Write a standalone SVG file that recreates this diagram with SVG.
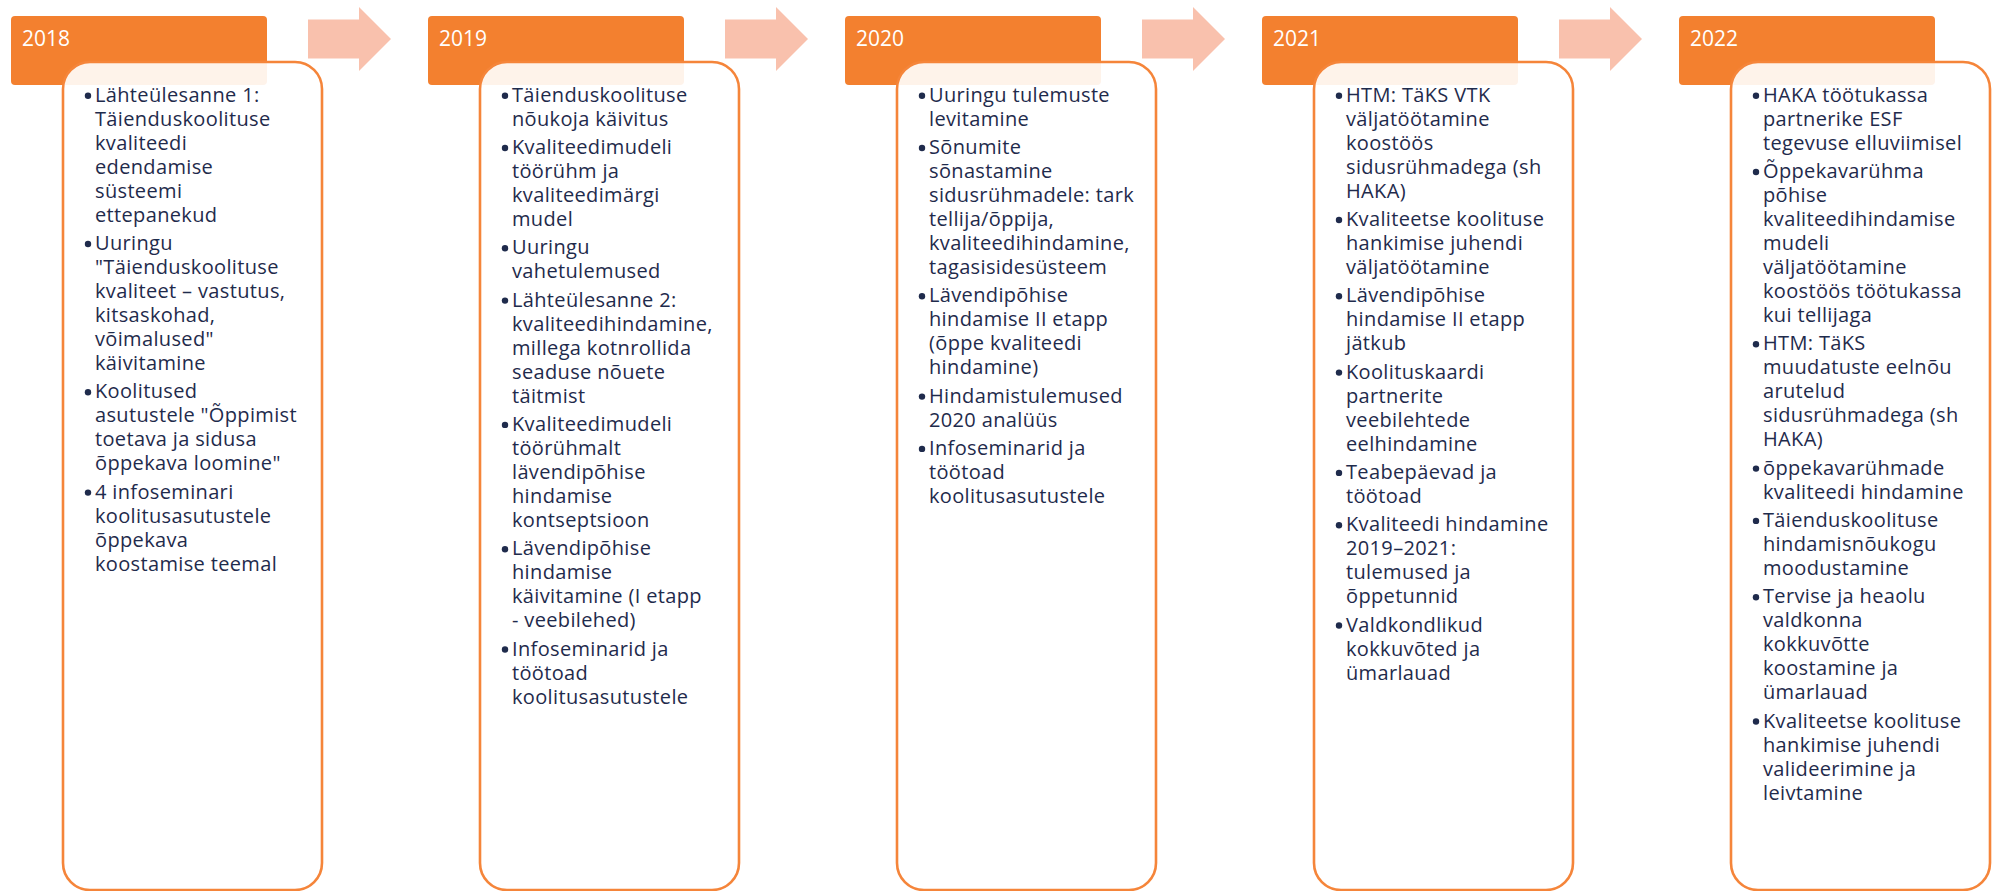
<svg xmlns="http://www.w3.org/2000/svg" width="1995" height="891" viewBox="0 0 1995 891">
<style>
.hdr{fill:#F3802F}
.body{fill:#FFFFFF;fill-opacity:0.9;stroke:#F5853A;stroke-width:2.6}
.yr{font-family:"Open Sans","Liberation Sans",sans-serif;font-size:21px;fill:#FFFFFF}
.t{font-family:"Open Sans","Liberation Sans",sans-serif;font-size:20px;fill:#1F2B4C;letter-spacing:0.35px}
.b{fill:#1F2B4C}
.arr{fill:#F9C1AD}
</style>
<rect width="1995" height="891" fill="#FFFFFF"/>
<g id="connectors">
<polygon class="arr" points="308,19.5 359,19.5 359,7 391,39 359,71 359,58.5 308,58.5"/>
<polygon class="arr" points="725,19.5 776,19.5 776,7 808,39 776,71 776,58.5 725,58.5"/>
<polygon class="arr" points="1142,19.5 1193,19.5 1193,7 1225,39 1193,71 1193,58.5 1142,58.5"/>
<polygon class="arr" points="1559,19.5 1610,19.5 1610,7 1642,39 1610,71 1610,58.5 1559,58.5"/>
</g>
<g id="node-2018">
<rect class="hdr" x="11" y="16" width="256" height="69" rx="4"/>
<text class="yr" x="22" y="46">2018</text>
<rect class="body" x="63" y="62" width="259" height="828" rx="27"/>
<circle class="b" cx="88" cy="95.7" r="3.2"/>
<text class="t" x="95" y="101.7">Lähteülesanne 1:<tspan x="95" dy="24">Täienduskoolituse</tspan><tspan x="95" dy="24">kvaliteedi</tspan><tspan x="95" dy="24">edendamise</tspan><tspan x="95" dy="24">süsteemi</tspan><tspan x="95" dy="24">ettepanekud</tspan></text>
<circle class="b" cx="88" cy="244" r="3.2"/>
<text class="t" x="95" y="250">Uuringu<tspan x="95" dy="24">"Täienduskoolituse</tspan><tspan x="95" dy="24">kvaliteet – vastutus,</tspan><tspan x="95" dy="24">kitsaskohad,</tspan><tspan x="95" dy="24">võimalused"</tspan><tspan x="95" dy="24">käivitamine</tspan></text>
<circle class="b" cx="88" cy="392.3" r="3.2"/>
<text class="t" x="95" y="398.3">Koolitused<tspan x="95" dy="24">asutustele "Õppimist</tspan><tspan x="95" dy="24">toetava ja sidusa</tspan><tspan x="95" dy="24">õppekava loomine"</tspan></text>
<circle class="b" cx="88" cy="492.6" r="3.2"/>
<text class="t" x="95" y="498.6">4 infoseminari<tspan x="95" dy="24">koolitusasutustele</tspan><tspan x="95" dy="24">õppekava</tspan><tspan x="95" dy="24">koostamise teemal</tspan></text>
</g>
<g id="node-2019">
<rect class="hdr" x="428" y="16" width="256" height="69" rx="4"/>
<text class="yr" x="439" y="46">2019</text>
<rect class="body" x="480" y="62" width="259" height="828" rx="27"/>
<circle class="b" cx="505" cy="95.7" r="3.2"/>
<text class="t" x="512" y="101.7">Täienduskoolituse<tspan x="512" dy="24">nõukoja käivitus</tspan></text>
<circle class="b" cx="505" cy="148" r="3.2"/>
<text class="t" x="512" y="154">Kvaliteedimudeli<tspan x="512" dy="24">töörühm ja</tspan><tspan x="512" dy="24">kvaliteedimärgi</tspan><tspan x="512" dy="24">mudel</tspan></text>
<circle class="b" cx="505" cy="248.3" r="3.2"/>
<text class="t" x="512" y="254.3">Uuringu<tspan x="512" dy="24">vahetulemused</tspan></text>
<circle class="b" cx="505" cy="300.6" r="3.2"/>
<text class="t" x="512" y="306.6">Lähteülesanne 2:<tspan x="512" dy="24">kvaliteedihindamine,</tspan><tspan x="512" dy="24">millega kotnrollida</tspan><tspan x="512" dy="24">seaduse nõuete</tspan><tspan x="512" dy="24">täitmist</tspan></text>
<circle class="b" cx="505" cy="424.9" r="3.2"/>
<text class="t" x="512" y="430.9">Kvaliteedimudeli<tspan x="512" dy="24">töörühmalt</tspan><tspan x="512" dy="24">lävendipõhise</tspan><tspan x="512" dy="24">hindamise</tspan><tspan x="512" dy="24">kontseptsioon</tspan></text>
<circle class="b" cx="505" cy="549.2" r="3.2"/>
<text class="t" x="512" y="555.2">Lävendipõhise<tspan x="512" dy="24">hindamise</tspan><tspan x="512" dy="24">käivitamine (I etapp</tspan><tspan x="512" dy="24">- veebilehed)</tspan></text>
<circle class="b" cx="505" cy="649.5" r="3.2"/>
<text class="t" x="512" y="655.5">Infoseminarid ja<tspan x="512" dy="24">töötoad</tspan><tspan x="512" dy="24">koolitusasutustele</tspan></text>
</g>
<g id="node-2020">
<rect class="hdr" x="845" y="16" width="256" height="69" rx="4"/>
<text class="yr" x="856" y="46">2020</text>
<rect class="body" x="897" y="62" width="259" height="828" rx="27"/>
<circle class="b" cx="922" cy="95.7" r="3.2"/>
<text class="t" x="929" y="101.7">Uuringu tulemuste<tspan x="929" dy="24">levitamine</tspan></text>
<circle class="b" cx="922" cy="148" r="3.2"/>
<text class="t" x="929" y="154">Sõnumite<tspan x="929" dy="24">sõnastamine</tspan><tspan x="929" dy="24">sidusrühmadele: tark</tspan><tspan x="929" dy="24">tellija/õppija,</tspan><tspan x="929" dy="24">kvaliteedihindamine,</tspan><tspan x="929" dy="24">tagasisidesüsteem</tspan></text>
<circle class="b" cx="922" cy="296.3" r="3.2"/>
<text class="t" x="929" y="302.3">Lävendipõhise<tspan x="929" dy="24">hindamise II etapp</tspan><tspan x="929" dy="24">(õppe kvaliteedi</tspan><tspan x="929" dy="24">hindamine)</tspan></text>
<circle class="b" cx="922" cy="396.6" r="3.2"/>
<text class="t" x="929" y="402.6">Hindamistulemused<tspan x="929" dy="24">2020 analüüs</tspan></text>
<circle class="b" cx="922" cy="448.9" r="3.2"/>
<text class="t" x="929" y="454.9">Infoseminarid ja<tspan x="929" dy="24">töötoad</tspan><tspan x="929" dy="24">koolitusasutustele</tspan></text>
</g>
<g id="node-2021">
<rect class="hdr" x="1262" y="16" width="256" height="69" rx="4"/>
<text class="yr" x="1273" y="46">2021</text>
<rect class="body" x="1314" y="62" width="259" height="828" rx="27"/>
<circle class="b" cx="1339" cy="95.7" r="3.2"/>
<text class="t" x="1346" y="101.7">HTM: TäKS VTK<tspan x="1346" dy="24">väljatöötamine</tspan><tspan x="1346" dy="24">koostöös</tspan><tspan x="1346" dy="24">sidusrühmadega (sh</tspan><tspan x="1346" dy="24">HAKA)</tspan></text>
<circle class="b" cx="1339" cy="220" r="3.2"/>
<text class="t" x="1346" y="226">Kvaliteetse koolituse<tspan x="1346" dy="24">hankimise juhendi</tspan><tspan x="1346" dy="24">väljatöötamine</tspan></text>
<circle class="b" cx="1339" cy="296.3" r="3.2"/>
<text class="t" x="1346" y="302.3">Lävendipõhise<tspan x="1346" dy="24">hindamise II etapp</tspan><tspan x="1346" dy="24">jätkub</tspan></text>
<circle class="b" cx="1339" cy="372.6" r="3.2"/>
<text class="t" x="1346" y="378.6">Koolituskaardi<tspan x="1346" dy="24">partnerite</tspan><tspan x="1346" dy="24">veebilehtede</tspan><tspan x="1346" dy="24">eelhindamine</tspan></text>
<circle class="b" cx="1339" cy="472.9" r="3.2"/>
<text class="t" x="1346" y="478.9">Teabepäevad ja<tspan x="1346" dy="24">töötoad</tspan></text>
<circle class="b" cx="1339" cy="525.2" r="3.2"/>
<text class="t" x="1346" y="531.2">Kvaliteedi hindamine<tspan x="1346" dy="24">2019–2021:</tspan><tspan x="1346" dy="24">tulemused ja</tspan><tspan x="1346" dy="24">õppetunnid</tspan></text>
<circle class="b" cx="1339" cy="625.5" r="3.2"/>
<text class="t" x="1346" y="631.5">Valdkondlikud<tspan x="1346" dy="24">kokkuvõted ja</tspan><tspan x="1346" dy="24">ümarlauad</tspan></text>
</g>
<g id="node-2022">
<rect class="hdr" x="1679" y="16" width="256" height="69" rx="4"/>
<text class="yr" x="1690" y="46">2022</text>
<rect class="body" x="1731" y="62" width="259" height="828" rx="27"/>
<circle class="b" cx="1756" cy="95.7" r="3.2"/>
<text class="t" x="1763" y="101.7">HAKA töötukassa<tspan x="1763" dy="24">partnerike ESF</tspan><tspan x="1763" dy="24">tegevuse elluviimisel</tspan></text>
<circle class="b" cx="1756" cy="172" r="3.2"/>
<text class="t" x="1763" y="178">Õppekavarühma<tspan x="1763" dy="24">põhise</tspan><tspan x="1763" dy="24">kvaliteedihindamise</tspan><tspan x="1763" dy="24">mudeli</tspan><tspan x="1763" dy="24">väljatöötamine</tspan><tspan x="1763" dy="24">koostöös töötukassa</tspan><tspan x="1763" dy="24">kui tellijaga</tspan></text>
<circle class="b" cx="1756" cy="344.3" r="3.2"/>
<text class="t" x="1763" y="350.3">HTM: TäKS<tspan x="1763" dy="24">muudatuste eelnõu</tspan><tspan x="1763" dy="24">arutelud</tspan><tspan x="1763" dy="24">sidusrühmadega (sh</tspan><tspan x="1763" dy="24">HAKA)</tspan></text>
<circle class="b" cx="1756" cy="468.6" r="3.2"/>
<text class="t" x="1763" y="474.6">õppekavarühmade<tspan x="1763" dy="24">kvaliteedi hindamine</tspan></text>
<circle class="b" cx="1756" cy="520.9" r="3.2"/>
<text class="t" x="1763" y="526.9">Täienduskoolituse<tspan x="1763" dy="24">hindamisnõukogu</tspan><tspan x="1763" dy="24">moodustamine</tspan></text>
<circle class="b" cx="1756" cy="597.2" r="3.2"/>
<text class="t" x="1763" y="603.2">Tervise ja heaolu<tspan x="1763" dy="24">valdkonna</tspan><tspan x="1763" dy="24">kokkuvõtte</tspan><tspan x="1763" dy="24">koostamine ja</tspan><tspan x="1763" dy="24">ümarlauad</tspan></text>
<circle class="b" cx="1756" cy="721.5" r="3.2"/>
<text class="t" x="1763" y="727.5">Kvaliteetse koolituse<tspan x="1763" dy="24">hankimise juhendi</tspan><tspan x="1763" dy="24">valideerimine ja</tspan><tspan x="1763" dy="24">leivtamine</tspan></text>
</g>
</svg>
